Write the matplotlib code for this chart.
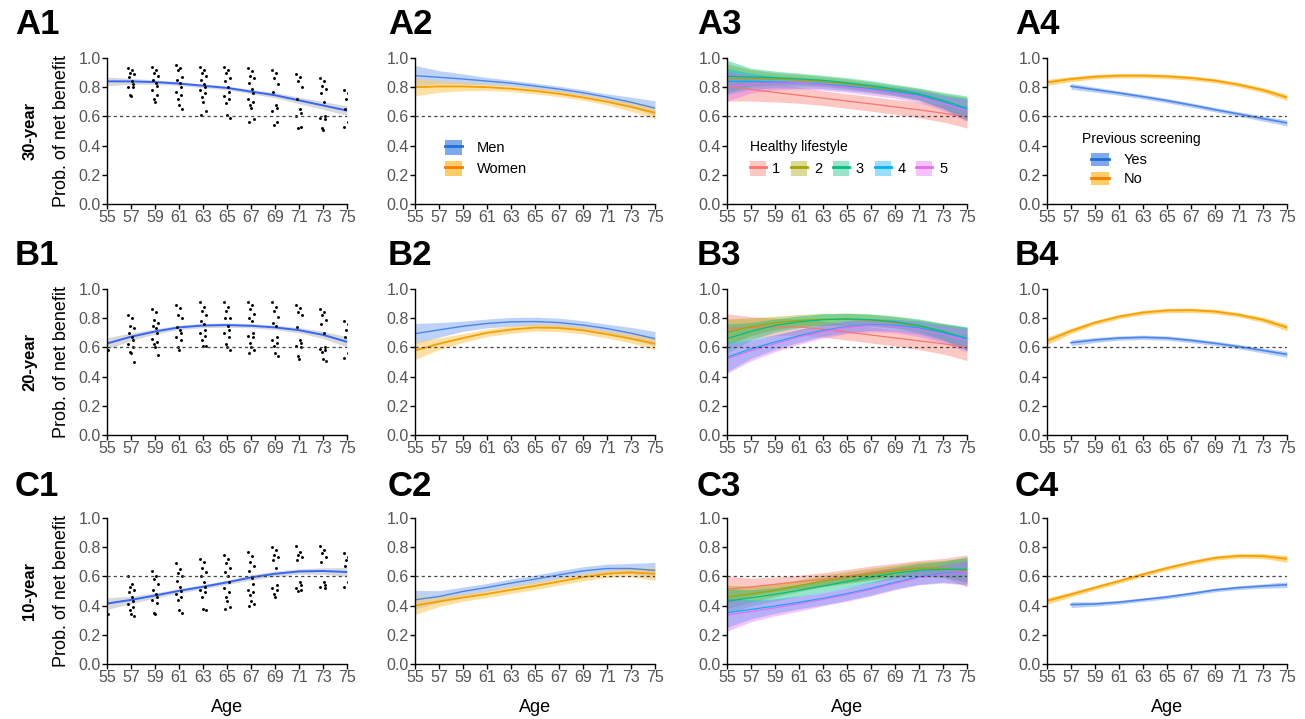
import matplotlib
matplotlib.use('Agg')
import matplotlib.pyplot as plt
from matplotlib.patches import Patch
from matplotlib.lines import Line2D
import numpy as np

plt.rcParams['font.family'] = ['Liberation Sans', 'DejaVu Sans']

# ---------------- data ----------------
AGES = [55, 57, 59, 61, 63, 65, 67, 69, 71, 73, 75]
AGES_YES = [57, 59, 61, 63, 65, 67, 69, 71, 73, 75]
XTICKS = [55, 57, 59, 61, 63, 65, 67, 69, 71, 73, 75]
YTICKS = [0.0, 0.2, 0.4, 0.6, 0.8, 1.0]
ROW_LABELS = ['30-year', '20-year', '10-year']
PANEL_LABELS = [['A1', 'A2', 'A3', 'A4'], ['B1', 'B2', 'B3', 'B4'], ['C1', 'C2', 'C3', 'C4']]
THRESHOLD = 0.6

# Column 1: overall smooth fit + observed points
A1_FIT = [0.84, 0.84, 0.835, 0.825, 0.81, 0.795, 0.77, 0.745, 0.71, 0.675, 0.64]
A1_CI = [0.03, 0.02, 0.015, 0.013, 0.013, 0.013, 0.015, 0.018, 0.022, 0.027, 0.032]
B1_FIT = [0.627, 0.673, 0.709, 0.737, 0.75, 0.753, 0.748, 0.737, 0.718, 0.686, 0.638]
B1_CI = [0.04, 0.025, 0.018, 0.015, 0.015, 0.015, 0.015, 0.015, 0.018, 0.025, 0.035]
C1_FIT = [0.414, 0.439, 0.469, 0.501, 0.529, 0.559, 0.593, 0.618, 0.634, 0.637, 0.63]
C1_CI = [0.04, 0.025, 0.018, 0.015, 0.015, 0.015, 0.018, 0.018, 0.018, 0.022, 0.03]

A1_PTS = {
    55: [0.86],
    57: [0.93, 0.92, 0.90, 0.89, 0.87, 0.84, 0.82, 0.80, 0.80, 0.75, 0.74],
    59: [0.94, 0.92, 0.90, 0.88, 0.85, 0.83, 0.81, 0.78, 0.75, 0.72, 0.70],
    61: [0.95, 0.93, 0.92, 0.87, 0.85, 0.83, 0.80, 0.77, 0.75, 0.72, 0.68, 0.65],
    63: [0.94, 0.92, 0.90, 0.88, 0.85, 0.82, 0.80, 0.78, 0.76, 0.73, 0.70, 0.64, 0.61],
    65: [0.94, 0.92, 0.90, 0.86, 0.84, 0.80, 0.77, 0.74, 0.72, 0.69, 0.61, 0.59],
    67: [0.93, 0.91, 0.88, 0.86, 0.83, 0.79, 0.76, 0.72, 0.70, 0.68, 0.66, 0.58, 0.56],
    69: [0.92, 0.90, 0.86, 0.82, 0.77, 0.68, 0.66, 0.64, 0.56, 0.54],
    71: [0.89, 0.87, 0.84, 0.80, 0.72, 0.65, 0.62, 0.60, 0.53, 0.52],
    73: [0.86, 0.84, 0.81, 0.79, 0.76, 0.70, 0.60, 0.59, 0.58, 0.52, 0.51],
    75: [0.78, 0.76, 0.72, 0.69, 0.65, 0.56, 0.55, 0.53],
}
B1_PTS = {
    55: [0.60, 0.58, 0.59],
    57: [0.82, 0.80, 0.75, 0.73, 0.70, 0.67, 0.65, 0.62, 0.60, 0.57, 0.56, 0.50],
    59: [0.86, 0.84, 0.79, 0.77, 0.75, 0.73, 0.70, 0.66, 0.64, 0.62, 0.60, 0.55],
    61: [0.89, 0.87, 0.82, 0.80, 0.74, 0.72, 0.70, 0.67, 0.65, 0.60, 0.58],
    63: [0.91, 0.88, 0.85, 0.82, 0.78, 0.76, 0.72, 0.70, 0.68, 0.65, 0.61, 0.61],
    65: [0.91, 0.88, 0.85, 0.80, 0.80, 0.75, 0.72, 0.70, 0.67, 0.62, 0.60, 0.58],
    67: [0.91, 0.89, 0.86, 0.83, 0.80, 0.78, 0.70, 0.68, 0.67, 0.63, 0.60, 0.58, 0.56],
    69: [0.91, 0.88, 0.85, 0.81, 0.77, 0.75, 0.67, 0.65, 0.63, 0.61, 0.56, 0.54],
    71: [0.89, 0.87, 0.84, 0.82, 0.74, 0.65, 0.63, 0.61, 0.60, 0.54, 0.52],
    73: [0.86, 0.84, 0.82, 0.79, 0.76, 0.70, 0.60, 0.59, 0.58, 0.57, 0.52, 0.51],
    75: [0.78, 0.76, 0.72, 0.70, 0.67, 0.56, 0.55, 0.53],
}
C1_PTS = {
    55: [0.36, 0.34],
    57: [0.60, 0.55, 0.53, 0.51, 0.49, 0.46, 0.43, 0.41, 0.39, 0.37, 0.34, 0.33],
    59: [0.64, 0.60, 0.58, 0.55, 0.51, 0.48, 0.46, 0.44, 0.42, 0.35, 0.34],
    61: [0.69, 0.65, 0.62, 0.60, 0.57, 0.53, 0.50, 0.48, 0.46, 0.44, 0.37, 0.35],
    63: [0.72, 0.70, 0.66, 0.63, 0.60, 0.56, 0.53, 0.51, 0.49, 0.46, 0.38, 0.37],
    65: [0.75, 0.72, 0.69, 0.66, 0.63, 0.60, 0.56, 0.52, 0.49, 0.46, 0.43, 0.39, 0.38],
    67: [0.77, 0.74, 0.70, 0.67, 0.64, 0.59, 0.55, 0.51, 0.49, 0.47, 0.43, 0.41, 0.40],
    69: [0.80, 0.78, 0.75, 0.73, 0.71, 0.66, 0.54, 0.52, 0.51, 0.48, 0.46],
    71: [0.81, 0.77, 0.75, 0.73, 0.71, 0.56, 0.54, 0.52, 0.51, 0.50],
    73: [0.81, 0.78, 0.76, 0.73, 0.70, 0.56, 0.54, 0.53, 0.52],
    75: [0.76, 0.73, 0.71, 0.69, 0.67, 0.56, 0.54, 0.53],
}
JITTER = [-0.22, 0.12, -0.05, 0.24, -0.15, 0.05, 0.2, -0.26, 0.15, -0.1, 0.0, 0.27, -0.18]

# Column 2: by sex
SEX_LABELS = ['Men', 'Women']
A2_MEN = [0.879, 0.868, 0.856, 0.842, 0.828, 0.808, 0.787, 0.762, 0.732, 0.697, 0.657]
A2_MEN_CI = [0.07, 0.045, 0.035, 0.025, 0.02, 0.02, 0.02, 0.02, 0.022, 0.035, 0.05]
A2_WOMEN = [0.80, 0.805, 0.805, 0.80, 0.79, 0.775, 0.755, 0.73, 0.70, 0.665, 0.625]
A2_WOMEN_CI = [0.06, 0.04, 0.03, 0.022, 0.02, 0.02, 0.02, 0.02, 0.022, 0.03, 0.04]
B2_MEN = [0.694, 0.72, 0.745, 0.764, 0.775, 0.777, 0.77, 0.753, 0.729, 0.697, 0.66]
B2_MEN_CI = [0.07, 0.05, 0.035, 0.03, 0.03, 0.03, 0.03, 0.03, 0.03, 0.04, 0.05]
B2_WOMEN = [0.579, 0.625, 0.664, 0.70, 0.722, 0.736, 0.733, 0.717, 0.69, 0.66, 0.625]
B2_WOMEN_CI = [0.06, 0.04, 0.03, 0.025, 0.025, 0.025, 0.025, 0.025, 0.025, 0.03, 0.04]
C2_MEN = [0.44, 0.462, 0.497, 0.524, 0.554, 0.581, 0.611, 0.638, 0.654, 0.654, 0.641]
C2_MEN_CI = [0.065, 0.04, 0.03, 0.028, 0.028, 0.028, 0.028, 0.028, 0.03, 0.035, 0.055]
C2_WOMEN = [0.40, 0.428, 0.455, 0.48, 0.508, 0.535, 0.565, 0.595, 0.618, 0.627, 0.618]
C2_WOMEN_CI = [0.06, 0.035, 0.025, 0.025, 0.025, 0.025, 0.025, 0.025, 0.025, 0.03, 0.045]

# Column 3: by healthy lifestyle score (1..5)
LIFESTYLE_LABELS = ['1', '2', '3', '4', '5']
A3_FIT = [
    [0.805, 0.785, 0.764, 0.745, 0.725, 0.705, 0.686, 0.665, 0.645, 0.622, 0.595],
    [0.86, 0.86, 0.855, 0.848, 0.838, 0.822, 0.80, 0.777, 0.75, 0.705, 0.655],
    [0.875, 0.87, 0.865, 0.857, 0.847, 0.83, 0.81, 0.785, 0.755, 0.71, 0.655],
    [0.84, 0.84, 0.835, 0.828, 0.82, 0.807, 0.79, 0.77, 0.745, 0.70, 0.65],
    [0.805, 0.82, 0.826, 0.828, 0.815, 0.80, 0.78, 0.76, 0.735, 0.69, 0.64],
]
A3_CI = [
    [0.10, 0.08, 0.065, 0.055, 0.05, 0.05, 0.05, 0.05, 0.055, 0.06, 0.075],
    [0.10, 0.06, 0.045, 0.04, 0.035, 0.035, 0.035, 0.035, 0.04, 0.05, 0.075],
    [0.11, 0.06, 0.045, 0.04, 0.035, 0.035, 0.035, 0.035, 0.04, 0.055, 0.085],
    [0.09, 0.055, 0.04, 0.035, 0.03, 0.03, 0.03, 0.03, 0.035, 0.045, 0.07],
    [0.10, 0.06, 0.045, 0.04, 0.035, 0.035, 0.035, 0.035, 0.04, 0.05, 0.075],
]
B3_FIT = [
    [0.73, 0.735, 0.74, 0.74, 0.725, 0.705, 0.685, 0.665, 0.645, 0.625, 0.60],
    [0.705, 0.742, 0.768, 0.785, 0.793, 0.793, 0.786, 0.77, 0.745, 0.71, 0.66],
    [0.66, 0.71, 0.75, 0.775, 0.79, 0.795, 0.79, 0.775, 0.75, 0.71, 0.66],
    [0.533, 0.59, 0.637, 0.68, 0.717, 0.742, 0.756, 0.752, 0.735, 0.70, 0.66],
    [0.522, 0.578, 0.626, 0.672, 0.71, 0.738, 0.752, 0.745, 0.724, 0.69, 0.648],
]
B3_CI = [
    [0.10, 0.075, 0.06, 0.055, 0.055, 0.055, 0.055, 0.055, 0.06, 0.07, 0.09],
    [0.09, 0.06, 0.045, 0.04, 0.04, 0.04, 0.04, 0.04, 0.045, 0.055, 0.08],
    [0.10, 0.06, 0.045, 0.04, 0.04, 0.04, 0.04, 0.04, 0.045, 0.055, 0.08],
    [0.10, 0.065, 0.05, 0.045, 0.04, 0.04, 0.04, 0.04, 0.045, 0.055, 0.075],
    [0.10, 0.07, 0.055, 0.05, 0.045, 0.045, 0.045, 0.045, 0.05, 0.06, 0.08],
]
C3_FIT = [
    [0.511, 0.528, 0.546, 0.563, 0.58, 0.603, 0.626, 0.645, 0.66, 0.658, 0.638],
    [0.459, 0.48, 0.505, 0.537, 0.569, 0.592, 0.615, 0.637, 0.656, 0.655, 0.642],
    [0.43, 0.453, 0.477, 0.505, 0.534, 0.565, 0.596, 0.622, 0.642, 0.648, 0.649],
    [0.351, 0.374, 0.397, 0.423, 0.45, 0.482, 0.518, 0.56, 0.596, 0.62, 0.626],
    [0.335, 0.36, 0.385, 0.413, 0.443, 0.475, 0.511, 0.553, 0.592, 0.615, 0.626],
]
C3_CI = [
    [0.09, 0.06, 0.05, 0.045, 0.045, 0.045, 0.045, 0.045, 0.05, 0.065, 0.11],
    [0.08, 0.055, 0.045, 0.04, 0.04, 0.04, 0.04, 0.04, 0.045, 0.055, 0.085],
    [0.085, 0.055, 0.045, 0.04, 0.04, 0.04, 0.04, 0.04, 0.045, 0.055, 0.085],
    [0.10, 0.065, 0.05, 0.045, 0.045, 0.045, 0.045, 0.045, 0.05, 0.06, 0.08],
    [0.11, 0.07, 0.055, 0.05, 0.045, 0.045, 0.045, 0.045, 0.05, 0.06, 0.085],
]

# Column 4: by previous screening
SCREEN_LABELS = ['Yes', 'No']
SCREEN_TITLE = 'Previous screening'
A4_YES = [0.806, 0.783, 0.76, 0.735, 0.708, 0.678, 0.646, 0.616, 0.585, 0.555]
A4_YES_CI = [0.02, 0.017, 0.015, 0.015, 0.015, 0.015, 0.015, 0.015, 0.017, 0.02]
A4_NO = [0.833, 0.856, 0.872, 0.879, 0.879, 0.874, 0.863, 0.845, 0.817, 0.78, 0.73]
A4_NO_CI = [0.02, 0.017, 0.015, 0.015, 0.015, 0.015, 0.015, 0.015, 0.015, 0.017, 0.02]
B4_YES = [0.632, 0.651, 0.664, 0.669, 0.664, 0.648, 0.628, 0.605, 0.579, 0.552]
B4_YES_CI = [0.02, 0.017, 0.015, 0.015, 0.015, 0.015, 0.015, 0.015, 0.017, 0.02]
B4_NO = [0.645, 0.713, 0.77, 0.811, 0.839, 0.853, 0.855, 0.846, 0.823, 0.789, 0.736]
B4_NO_CI = [0.025, 0.018, 0.015, 0.015, 0.015, 0.015, 0.015, 0.015, 0.015, 0.017, 0.022]
C4_YES = [0.407, 0.411, 0.423, 0.441, 0.459, 0.482, 0.507, 0.523, 0.534, 0.543]
C4_YES_CI = [0.02, 0.015, 0.013, 0.013, 0.013, 0.013, 0.013, 0.013, 0.015, 0.02]
C4_NO = [0.432, 0.477, 0.523, 0.568, 0.614, 0.657, 0.695, 0.727, 0.741, 0.739, 0.72]
C4_NO_CI = [0.022, 0.017, 0.015, 0.015, 0.015, 0.015, 0.015, 0.015, 0.015, 0.017, 0.022]

# ---------------- styles ----------------
BLUE_FIT = '#3366FF'
GREY_BAND = '#BEBEBE'
MEN_LINE, MEN_BAND = '#4A86E8', '#A9C4F5'
WOMEN_LINE, WOMEN_BAND = '#F5A000', '#FFCC66'
LS_COLORS = ['#F8766D', '#A3A500', '#00BF7D', '#00B0F6', '#E76BF3']

W, H = 1305, 719
COL_LEFT = [107, 415, 727, 1047]
ROW_TOP = [58, 289, 518]
AX_W, AX_H = 240, 146

fig = plt.figure(figsize=(W / 100, H / 100), dpi=100)


def make_ax(r, c):
    ax = fig.add_axes([COL_LEFT[c] / W, 1 - (ROW_TOP[r] + AX_H) / H, AX_W / W, AX_H / H])
    ax.set_xlim(55, 75)
    ax.set_ylim(0, 1)
    ax.set_xticks(XTICKS)
    ax.set_xticklabels([str(t) for t in XTICKS])
    ax.set_yticks(YTICKS)
    ax.set_yticklabels(['%.1f' % t for t in YTICKS])
    for s in ['top', 'right']:
        ax.spines[s].set_visible(False)
    for s in ['left', 'bottom']:
        ax.spines[s].set_linewidth(1.0)
    ax.tick_params(direction='out', length=3.5, width=1.0, color='black',
                   labelcolor='#555555', labelsize=11.5, pad=1)
    ax.axhline(THRESHOLD, color='#444444', ls=(0, (2.5, 2.5)), lw=0.9, zorder=10)
    return ax


def band(ax, x, fit, ci, fc, lc, alpha=0.6, lw=1.2):
    fit = np.asarray(fit)
    ci = np.asarray(ci)
    ax.fill_between(x, fit - ci, fit + ci, color=fc, alpha=alpha, lw=0)
    ax.plot(x, fit, color=lc, lw=lw)


def left_legend(leg):
    leg._legend_box.align = 'left'


col1 = [(A1_FIT, A1_CI, A1_PTS), (B1_FIT, B1_CI, B1_PTS), (C1_FIT, C1_CI, C1_PTS)]
col2 = [(A2_MEN, A2_MEN_CI, A2_WOMEN, A2_WOMEN_CI),
        (B2_MEN, B2_MEN_CI, B2_WOMEN, B2_WOMEN_CI),
        (C2_MEN, C2_MEN_CI, C2_WOMEN, C2_WOMEN_CI)]
col3 = [(A3_FIT, A3_CI), (B3_FIT, B3_CI), (C3_FIT, C3_CI)]
col4 = [(A4_YES, A4_YES_CI, A4_NO, A4_NO_CI),
        (B4_YES, B4_YES_CI, B4_NO, B4_NO_CI),
        (C4_YES, C4_YES_CI, C4_NO, C4_NO_CI)]

for r in range(3):
    # column 1
    ax = make_ax(r, 0)
    fit, ci, pts = col1[r]
    xs, ys = [], []
    for age, vals in pts.items():
        for i, v in enumerate(vals):
            xs.append(age + JITTER[i % len(JITTER)])
            ys.append(v)
    band(ax, AGES, fit, ci, GREY_BAND, BLUE_FIT, alpha=0.6, lw=1.4)
    ax.scatter(xs, ys, s=4.5, color='black', zorder=5, lw=0)
    ax.set_ylabel('Prob. of net benefit', fontsize=13, labelpad=6)

    # column 2
    ax = make_ax(r, 1)
    men, men_ci, wom, wom_ci = col2[r]
    band(ax, AGES, men, men_ci, MEN_BAND, MEN_LINE, alpha=0.75, lw=1.0)
    band(ax, AGES, wom, wom_ci, WOMEN_BAND, WOMEN_LINE, alpha=0.6, lw=1.3)
    if r == 0:
        h = [(Patch(fc='#7EA9EE', ec='none'), Line2D([], [], color='#1F6FD0', lw=2)),
             (Patch(fc=WOMEN_BAND, ec='none'), Line2D([], [], color='#F57C00', lw=2))]
        ax.legend(h, SEX_LABELS, loc='upper left', bbox_to_anchor=(0.07, 0.53), frameon=False,
                  fontsize=10.5, handlelength=1.2, handleheight=1.2, labelspacing=0.4,
                  handletextpad=1.0)

    # column 3
    ax = make_ax(r, 2)
    fits, cis = col3[r]
    for k in range(5):
        band(ax, AGES, fits[k], cis[k], LS_COLORS[k], LS_COLORS[k], alpha=0.4, lw=0.9)
    if r == 0:
        h = [(Patch(fc=LS_COLORS[k], ec='none', alpha=0.4), Line2D([], [], color=LS_COLORS[k], lw=2))
             for k in range(5)]
        leg = ax.legend(h, LIFESTYLE_LABELS, title='Healthy lifestyle', loc='upper left',
                        bbox_to_anchor=(0.04, 0.53), ncol=5, frameon=False, fontsize=10.5,
                        title_fontsize=10, handlelength=1.1, handleheight=1.2,
                        columnspacing=0.75, handletextpad=0.45)
        left_legend(leg)

    # column 4
    ax = make_ax(r, 3)
    yes, yes_ci, no, no_ci = col4[r]
    band(ax, AGES_YES, yes, yes_ci, MEN_BAND, MEN_LINE, alpha=0.8, lw=1.2)
    band(ax, AGES, no, no_ci, WOMEN_BAND, WOMEN_LINE, alpha=0.8, lw=1.3)
    if r == 0:
        h = [(Patch(fc='#7EA9EE', ec='none'), Line2D([], [], color='#1F6FD0', lw=2)),
             (Patch(fc=WOMEN_BAND, ec='none'), Line2D([], [], color='#F57C00', lw=2))]
        ax.text(0.146, 0.445, SCREEN_TITLE, transform=ax.transAxes, fontsize=10,
                ha='left', va='center')
        ax.legend(h, SCREEN_LABELS, loc='upper left', bbox_to_anchor=(0.13, 0.44),
                  frameon=False, fontsize=10.5, handlelength=1.2, handleheight=1.0,
                  labelspacing=0.3, handletextpad=1.0)

    # row label
    fig.text(30 / W, 1 - (ROW_TOP[r] + AX_H / 2) / H, ROW_LABELS[r], rotation=90,
             fontsize=12, fontweight='bold', ha='center', va='center')

# panel labels
LABEL_X = [15, 388, 697, 1015]
LABEL_Y = [25, 256, 487]
for r in range(3):
    for c in range(4):
        fig.text(LABEL_X[c] / W, 1 - LABEL_Y[r] / H, PANEL_LABELS[r][c], fontsize=25,
                 fontweight='bold', ha='left', va='center')

# x-axis titles
for c in range(4):
    fig.text((COL_LEFT[c] + AX_W / 2) / W, 1 - 708 / H, 'Age', fontsize=13,
             ha='center', va='center')

fig.savefig('out.png', dpi=100)
